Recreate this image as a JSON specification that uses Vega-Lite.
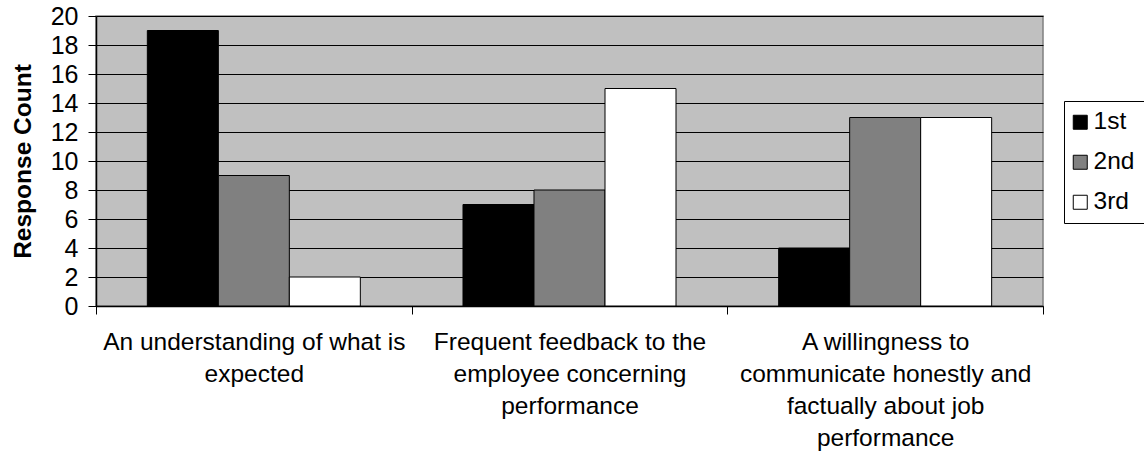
{
  "$schema": "https://vega.github.io/schema/vega-lite/v6.json",
  "width": 947,
  "height": 290,
  "autosize": {"type": "none"},
  "padding": {"left": 96, "top": 16, "right": 101, "bottom": 149},
  "background": "#ffffff",
  "config": {
    "font": "Liberation Sans",
    "view": {"fill": "#C0C0C0", "stroke": "#808080", "strokeWidth": 1.5}
  },
  "data": {
    "values": [
      {"category": "An understanding of what is|expected", "rank": "1st", "count": 19},
      {"category": "An understanding of what is|expected", "rank": "2nd", "count": 9},
      {"category": "An understanding of what is|expected", "rank": "3rd", "count": 2},
      {"category": "Frequent feedback to the|employee concerning|performance", "rank": "1st", "count": 7},
      {"category": "Frequent feedback to the|employee concerning|performance", "rank": "2nd", "count": 8},
      {"category": "Frequent feedback to the|employee concerning|performance", "rank": "3rd", "count": 15},
      {"category": "A willingness to|communicate honestly and|factually about job|performance", "rank": "1st", "count": 4},
      {"category": "A willingness to|communicate honestly and|factually about job|performance", "rank": "2nd", "count": 13},
      {"category": "A willingness to|communicate honestly and|factually about job|performance", "rank": "3rd", "count": 13}
    ]
  },
  "mark": {"type": "bar", "stroke": "#000000", "strokeWidth": 1},
  "encoding": {
    "x": {
      "field": "category",
      "type": "nominal",
      "sort": null,
      "scale": {"paddingInner": 0, "paddingOuter": 0},
      "axis": {
        "title": null,
        "labelAngle": 0,
        "labelExpr": "split(datum.label, '|')",
        "labelFontSize": 24.5,
        "labelColor": "#000000",
        "labelLineHeight": 32,
        "labelPadding": 16,
        "labelLimit": 400,
        "tickBand": "extent",
        "tickSize": 8,
        "tickColor": "#000000",
        "domainColor": "#000000",
        "domainWidth": 1.5,
        "grid": false
      }
    },
    "xOffset": {
      "field": "rank",
      "type": "nominal",
      "scale": {"paddingInner": 0, "paddingOuter": 0.723}
    },
    "y": {
      "field": "count",
      "type": "quantitative",
      "scale": {"domain": [0, 20], "nice": false},
      "axis": {
        "title": "Response Count",
        "titleFontSize": 24.5,
        "titleFontWeight": "bold",
        "titleColor": "#000000",
        "titlePadding": 15,
        "values": [0, 2, 4, 6, 8, 10, 12, 14, 16, 18, 20],
        "labelFontSize": 25,
        "labelColor": "#000000",
        "labelPadding": 10,
        "tickSize": 8,
        "tickColor": "#000000",
        "domainColor": "#000000",
        "domainWidth": 1.5,
        "grid": true,
        "gridColor": "#000000",
        "gridWidth": 1
      }
    },
    "color": {
      "field": "rank",
      "type": "nominal",
      "scale": {"domain": ["1st", "2nd", "3rd"], "range": ["#000000", "#808080", "#FFFFFF"]},
      "legend": {
        "title": null,
        "orient": "none",
        "legendX": 968,
        "legendY": 85,
        "direction": "vertical",
        "symbolType": "square",
        "symbolSize": 196,
        "symbolOffset": -5,
        "symbolStrokeColor": "#000000",
        "symbolStrokeWidth": 1,
        "labelFontSize": 24.5,
        "labelColor": "#000000",
        "labelOffset": 1,
        "rowPadding": 15,
        "padding": 9,
        "strokeColor": "#000000",
        "fillColor": "#ffffff",
        "cornerRadius": 0
      }
    }
  }
}
